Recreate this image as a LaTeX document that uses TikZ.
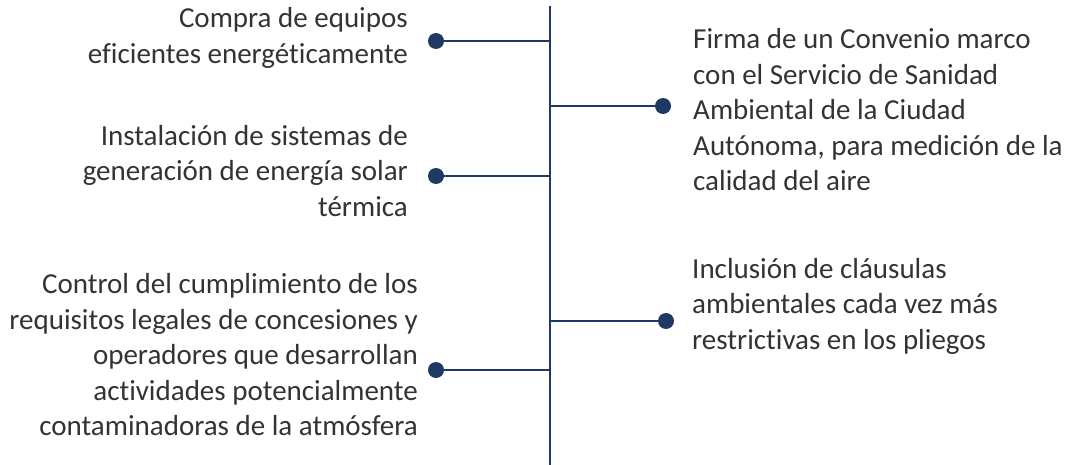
\documentclass[tikz,border=0pt]{standalone}
\usepackage{fontspec}
\setmainfont{Carlito}[Ligatures=CommonOff]
\usepackage{xcolor}
\definecolor{spineblue}{HTML}{1F3864}
\definecolor{txtgray}{HTML}{333333}
\usetikzlibrary{positioning}

\begin{document}
\begin{tikzpicture}[
    x=1pt, y=-1pt,
    spine/.style={draw=spineblue, line width=2.8pt},
    branch/.style={draw=spineblue, line width=2.8pt},
    dot/.style={circle, fill=spineblue, inner sep=0pt, minimum size=16pt},
    lefttxt/.style={anchor=east, align=right, inner sep=0pt, text=txtgray, font=\fontsize{29}{35.5}\selectfont},
    righttxt/.style={anchor=west, align=left, inner sep=0pt, text=txtgray, font=\fontsize{29}{35.5}\selectfont}
]
\useasboundingbox (0,0) rectangle (1075,465);

% Spine
\coordinate (top) at (550,6);
\coordinate (bottom) at (550,465);
\draw[spine] (top) -- (bottom);

% Points on the spine
\coordinate (s1) at (550,41);
\coordinate (s2) at (550,106);
\coordinate (s3) at (550,176);
\coordinate (s4) at (550,321);
\coordinate (s5) at (550,370);

% Dots
\node[dot] (d1) at (436,41) {};
\node[dot] (d2) at (663,106) {};
\node[dot] (d3) at (436,176) {};
\node[dot] (d4) at (666,321) {};
\node[dot] (d5) at (436,370) {};

% Branches
\draw[branch] (d1) -- (s1);
\draw[branch] (d2) -- (s2);
\draw[branch] (d3) -- (s3);
\draw[branch] (d4) -- (s4);
\draw[branch] (d5) -- (s5);

% Labels
\node[lefttxt] (t1) at (408,38) {Compra de equipos\\eficientes energéticamente};
\node[lefttxt] (t3) at (408,171) {Instalación de sistemas de\\generación de energía solar\\térmica};
\node[lefttxt] (t5) at (418,355) {Control del cumplimiento de los\\requisitos legales de concesiones y\\operadores que desarrollan\\actividades potencialmente\\contaminadoras de la atmósfera};
\node[righttxt] (t2) at (693,110) {Firma de un Convenio marco\\con el Servicio de Sanidad\\Ambiental de la Ciudad\\Autónoma, para medición de la\\calidad del aire};
\node[righttxt] (t4) at (692,306) {Inclusión de cláusulas\\ambientales cada vez más\\restrictivas en los pliegos};

\end{tikzpicture}
\end{document}
